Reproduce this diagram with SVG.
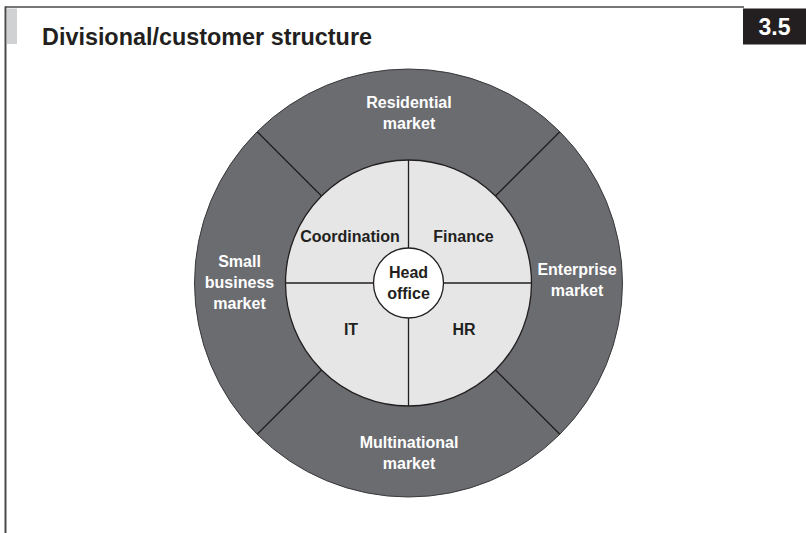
<svg xmlns="http://www.w3.org/2000/svg" width="806" height="533" viewBox="0 0 806 533">
<style>
.t{font-family:"Liberation Sans",Arial,sans-serif;font-weight:bold;text-anchor:middle;font-size:16px}
.w{fill:#ffffff}
.d{fill:#231f20}
.ln{stroke:#231f20;stroke-width:1.3;fill:none}
</style>
<rect x="0" y="0" width="806" height="533" fill="#ffffff"/>
<g id="frame">
<line x1="5" y1="7" x2="744" y2="7" stroke="#4a4a4a" stroke-width="1.5"/>
<line x1="5.5" y1="6.5" x2="5.5" y2="533" stroke="#4a4a4a" stroke-width="2"/>
<rect x="7" y="8.5" width="10" height="35.5" fill="#d0d1d3"/>
<text x="42" y="45" font-family="Liberation Sans,Arial,sans-serif" font-weight="bold" font-size="23" fill="#231f20" textLength="330" lengthAdjust="spacingAndGlyphs">Divisional/customer structure</text>
<rect x="743" y="8.5" width="63" height="36" fill="#231f20"/>
<text x="774.5" y="35" font-family="Liberation Sans,Arial,sans-serif" font-weight="bold" font-size="23" fill="#ffffff" text-anchor="middle">3.5</text>
</g>
<g id="outer-ring">
<circle cx="408.5" cy="283" r="214" fill="#6b6c70" stroke="#3a3a3c" stroke-width="1"/>
</g>
<g id="inner-circle">
<circle cx="408.5" cy="283" r="123" fill="#e6e6e7" stroke="#231f20" stroke-width="1.3"/>
</g>
<g id="connectors">
<line class="ln" x1="321.5" y1="196" x2="257.2" y2="131.7"/>
<line class="ln" x1="495.5" y1="196" x2="559.8" y2="131.7"/>
<line class="ln" x1="321.5" y1="370" x2="257.2" y2="434.3"/>
<line class="ln" x1="495.5" y1="370" x2="559.8" y2="434.3"/>
<line class="ln" x1="408.5" y1="160" x2="408.5" y2="248"/>
<line class="ln" x1="408.5" y1="318" x2="408.5" y2="406"/>
<line class="ln" x1="285.5" y1="283" x2="373.5" y2="283"/>
<line class="ln" x1="443.5" y1="283" x2="531.5" y2="283"/>
</g>
<g id="head-office">
<circle cx="408.5" cy="283" r="35" fill="#ffffff" stroke="#231f20" stroke-width="1.3"/>
<text class="t d" x="408.5" y="277.5">Head</text>
<text class="t d" x="408.5" y="298.5">office</text>
</g>
<g id="residential">
<text class="t w" x="409" y="108">Residential</text>
<text class="t w" x="409" y="129">market</text>
</g>
<g id="small-business">
<text class="t w" x="239.5" y="267">Small</text>
<text class="t w" x="239.5" y="288">business</text>
<text class="t w" x="239.5" y="309">market</text>
</g>
<g id="enterprise">
<text class="t w" x="577" y="274.5">Enterprise</text>
<text class="t w" x="577" y="295.5">market</text>
</g>
<g id="multinational">
<text class="t w" x="409" y="448">Multinational</text>
<text class="t w" x="409" y="469">market</text>
</g>
<g id="coordination">
<text class="t d" x="350" y="241.5">Coordination</text>
</g>
<g id="finance">
<text class="t d" x="463.5" y="241.5">Finance</text>
</g>
<g id="it">
<text class="t d" x="351" y="335">IT</text>
</g>
<g id="hr">
<text class="t d" x="464" y="335">HR</text>
</g>
</svg>
